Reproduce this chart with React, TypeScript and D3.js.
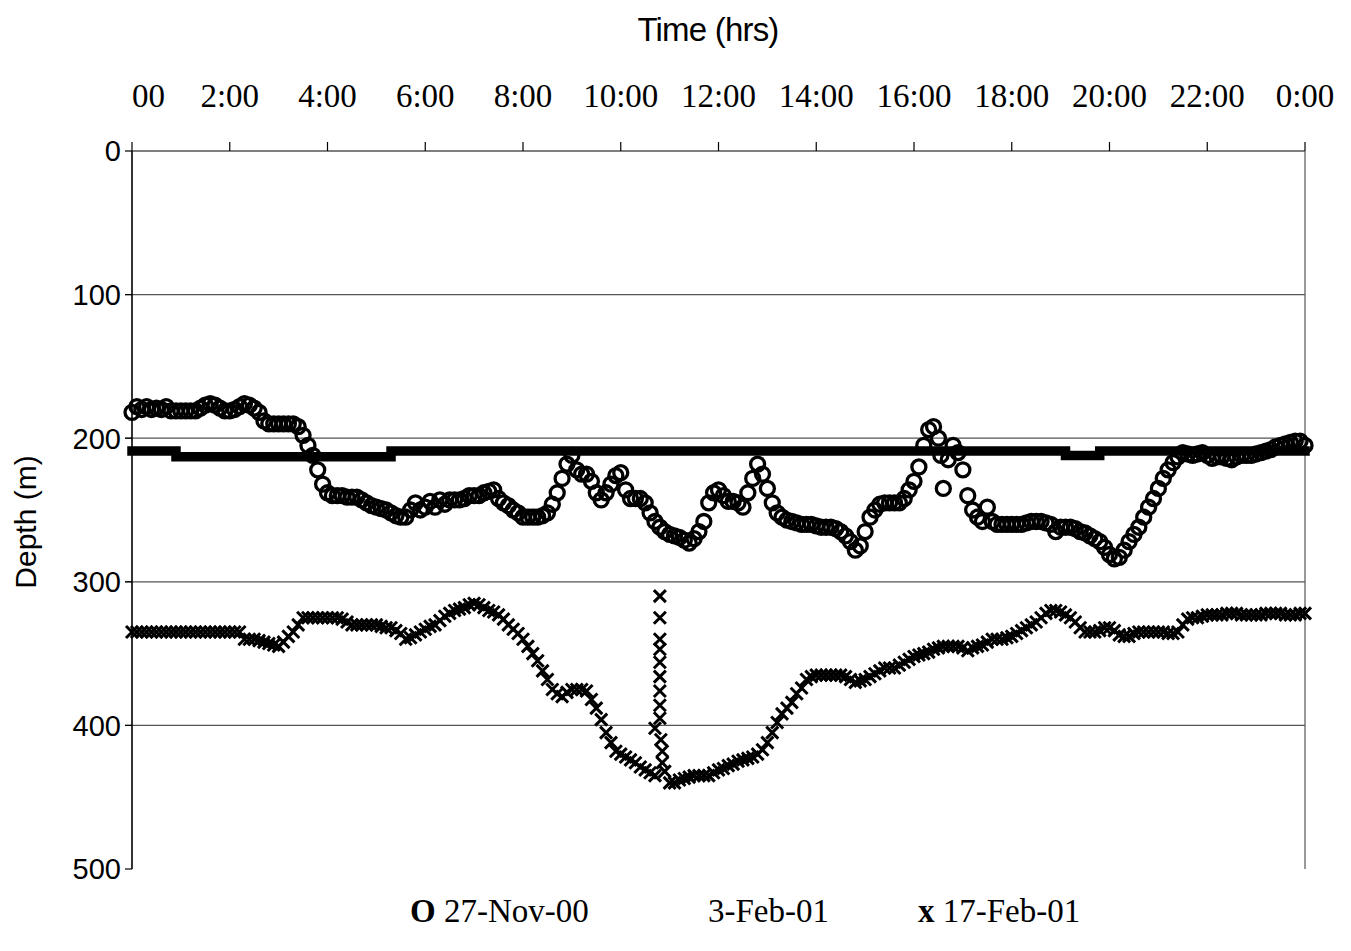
import React from "react";
import * as d3 from "d3";

// depth (m) vs time of day (hrs) for three days
const timeTicks = [0, 2, 4, 6, 8, 10, 12, 14, 16, 18, 20, 22, 24];
const timeLabels = ["00", "2:00", "4:00", "6:00", "8:00", "10:00", "12:00", "14:00", "16:00", "18:00", "20:00", "22:00", "0:00"];
const depthTicks = [0, 100, 200, 300, 400, 500];

// 27-Nov-00 (open circles), [hour, depth]
const nov27: [number, number][] = [
  [0.0, 182], [0.1, 178], [0.2, 180], [0.3, 178], [0.4, 180], [0.5, 179], [0.6, 180], [0.7, 178], [0.8, 181], [0.9, 181],
  [1.0, 181], [1.1, 181], [1.2, 181], [1.3, 181], [1.4, 179], [1.5, 177], [1.6, 176], [1.7, 177], [1.8, 179], [1.9, 181],
  [2.0, 181], [2.1, 180], [2.2, 178], [2.3, 176], [2.4, 177], [2.5, 179], [2.6, 182], [2.7, 188], [2.8, 190], [2.9, 190],
  [3.0, 190], [3.1, 190], [3.2, 190], [3.3, 190], [3.4, 192], [3.5, 198], [3.6, 205], [3.7, 212], [3.8, 222], [3.9, 232],
  [4.0, 238], [4.1, 240], [4.2, 240], [4.3, 240], [4.4, 241], [4.5, 241], [4.6, 241], [4.7, 243], [4.8, 245], [4.9, 247],
  [5.0, 248], [5.1, 249], [5.2, 250], [5.3, 252], [5.4, 254], [5.5, 255], [5.6, 255], [5.7, 250], [5.8, 245], [5.9, 250],
  [6.0, 248], [6.1, 244], [6.2, 248], [6.3, 243], [6.4, 246], [6.5, 243], [6.6, 243], [6.7, 243], [6.8, 242], [6.9, 240],
  [7.0, 240], [7.1, 240], [7.2, 238], [7.3, 237], [7.4, 236], [7.5, 242], [7.6, 245], [7.7, 247], [7.8, 250], [7.9, 252],
  [8.0, 255], [8.1, 255], [8.2, 255], [8.3, 255], [8.4, 254], [8.5, 252], [8.6, 246], [8.7, 238], [8.8, 228], [8.9, 218],
  [9.0, 212], [9.1, 222], [9.2, 225], [9.3, 225], [9.4, 230], [9.5, 238], [9.6, 243], [9.7, 238], [9.8, 232], [9.9, 226],
  [10.0, 224], [10.1, 236], [10.2, 242], [10.3, 242], [10.4, 242], [10.5, 245], [10.6, 252], [10.7, 258], [10.8, 262], [10.9, 265],
  [11.0, 267], [11.1, 268], [11.2, 269], [11.3, 271], [11.4, 273], [11.5, 270], [11.6, 265], [11.7, 258], [11.8, 245], [11.9, 238],
  [12.0, 236], [12.1, 240], [12.2, 244], [12.3, 244], [12.4, 245], [12.5, 248], [12.6, 238], [12.7, 228], [12.8, 218], [12.9, 225],
  [13.0, 235], [13.1, 245], [13.2, 252], [13.3, 255], [13.4, 257], [13.5, 258], [13.6, 259], [13.7, 260], [13.8, 260], [13.9, 260],
  [14.0, 261], [14.1, 262], [14.2, 262], [14.3, 262], [14.4, 263], [14.5, 265], [14.6, 268], [14.7, 272], [14.8, 278], [14.9, 275],
  [15.0, 265], [15.1, 255], [15.2, 250], [15.3, 246], [15.4, 245], [15.5, 245], [15.6, 245], [15.7, 245], [15.8, 242], [15.9, 236],
  [16.0, 230], [16.1, 220], [16.2, 205], [16.3, 194], [16.4, 192], [16.5, 200], [16.55, 212], [16.6, 235], [16.7, 215], [16.8, 205], [16.9, 210],
  [17.0, 222], [17.1, 240], [17.2, 250], [17.3, 255], [17.4, 258], [17.5, 248], [17.6, 258], [17.7, 260], [17.8, 260], [17.9, 260],
  [18.0, 260], [18.1, 260], [18.2, 260], [18.3, 259], [18.4, 258], [18.5, 258], [18.6, 258], [18.7, 259], [18.8, 260], [18.9, 265],
  [19.0, 262], [19.1, 262], [19.2, 262], [19.3, 263], [19.4, 265], [19.5, 266], [19.6, 268], [19.7, 270], [19.8, 272], [19.9, 276],
  [20.0, 281], [20.1, 284], [20.2, 283], [20.3, 278], [20.4, 272], [20.5, 267], [20.6, 262], [20.7, 255], [20.8, 248], [20.9, 242],
  [21.0, 235], [21.1, 228], [21.2, 222], [21.3, 217], [21.4, 213], [21.5, 210], [21.6, 211], [21.7, 212], [21.8, 211], [21.9, 210],
  [22.0, 212], [22.1, 214], [22.2, 213], [22.3, 213], [22.4, 214], [22.5, 215], [22.6, 213], [22.7, 212], [22.8, 212], [22.9, 212],
  [23.0, 211], [23.1, 210], [23.2, 209], [23.3, 208], [23.4, 206], [23.5, 205], [23.6, 204], [23.7, 203], [23.8, 202], [23.9, 202],
  [24.0, 205],
];

// 3-Feb-01 (thick dash line), step breakpoints
const feb3: [number, number][] = [
  [0, 209], [0.9, 213], [5.3, 209], [19.1, 212], [19.8, 209], [24, 209],
];

// 17-Feb-01 (crosses), [hour, depth]
const feb17: [number, number][] = [
  [0.0, 335], [0.1, 335], [0.2, 335], [0.3, 335], [0.4, 335], [0.5, 335], [0.6, 335], [0.7, 335], [0.8, 335], [0.9, 335],
  [1.0, 335], [1.1, 335], [1.2, 335], [1.3, 335], [1.4, 335], [1.5, 335], [1.6, 335], [1.7, 335], [1.8, 335], [1.9, 335],
  [2.0, 335], [2.1, 335], [2.2, 335], [2.3, 340], [2.4, 340], [2.5, 340], [2.6, 341], [2.7, 342], [2.8, 343], [2.9, 344],
  [3.0, 345], [3.1, 342], [3.2, 338], [3.3, 335], [3.4, 330], [3.5, 325], [3.6, 325], [3.7, 325], [3.8, 325], [3.9, 325],
  [4.0, 325], [4.1, 325], [4.2, 325], [4.3, 326], [4.4, 328], [4.5, 330], [4.6, 330], [4.7, 330], [4.8, 330], [4.9, 330],
  [5.0, 330], [5.1, 331], [5.2, 332], [5.3, 332], [5.4, 334], [5.5, 336], [5.6, 340], [5.7, 339], [5.8, 337], [5.9, 335],
  [6.0, 333], [6.1, 331], [6.2, 330], [6.3, 327], [6.4, 324], [6.5, 322], [6.6, 320], [6.7, 319], [6.8, 318], [6.9, 316],
  [7.0, 315], [7.1, 316], [7.2, 318], [7.3, 320], [7.4, 321], [7.5, 323], [7.6, 326], [7.7, 330], [7.8, 333], [7.9, 336],
  [8.0, 340], [8.1, 345], [8.2, 350], [8.3, 355], [8.4, 362], [8.5, 368], [8.6, 375], [8.7, 378], [8.8, 380], [8.9, 377],
  [9.0, 375], [9.1, 375], [9.2, 375], [9.3, 376], [9.4, 382], [9.5, 388], [9.6, 396], [9.7, 405], [9.8, 412], [9.9, 418],
  [10.0, 420], [10.1, 422], [10.2, 424], [10.3, 426], [10.4, 429], [10.5, 431], [10.6, 433], [10.7, 435],
  [10.8, 310], [10.8, 325], [10.8, 340], [10.8, 347], [10.8, 356], [10.8, 366], [10.8, 376], [10.8, 386], [10.8, 395],
  [10.7, 402], [10.82, 410], [10.85, 418], [10.85, 426], [10.9, 432],
  [11.0, 440], [11.1, 440], [11.2, 438], [11.3, 437], [11.4, 436], [11.5, 435], [11.6, 435], [11.7, 435], [11.8, 435], [11.9, 433],
  [12.0, 431], [12.1, 430], [12.2, 428], [12.3, 427], [12.4, 425], [12.5, 424], [12.6, 423], [12.7, 422], [12.8, 420], [12.9, 417],
  [13.0, 412], [13.1, 405], [13.2, 398], [13.3, 392], [13.4, 388], [13.5, 384], [13.6, 378], [13.7, 374], [13.8, 368], [13.9, 366],
  [14.0, 365], [14.1, 365], [14.2, 365], [14.3, 365], [14.4, 365], [14.5, 365], [14.6, 366], [14.7, 368], [14.8, 370], [14.9, 369],
  [15.0, 368], [15.1, 366], [15.2, 364], [15.3, 362], [15.4, 360], [15.5, 360], [15.6, 360], [15.7, 358], [15.8, 356], [15.9, 354],
  [16.0, 352], [16.1, 351], [16.2, 350], [16.3, 349], [16.4, 347], [16.5, 346], [16.6, 345], [16.7, 345], [16.8, 345], [16.9, 345],
  [17.0, 346], [17.1, 348], [17.2, 346], [17.3, 345], [17.4, 344], [17.5, 342], [17.6, 340], [17.7, 340], [17.8, 340], [17.9, 339],
  [18.0, 338], [18.1, 336], [18.2, 334], [18.3, 332], [18.4, 330], [18.5, 328], [18.6, 325], [18.7, 322], [18.8, 320], [18.9, 320],
  [19.0, 321], [19.1, 323], [19.2, 325], [19.3, 328], [19.4, 332], [19.5, 335], [19.6, 335], [19.7, 335], [19.8, 334], [19.9, 332],
  [20.0, 332], [20.1, 334], [20.2, 337], [20.3, 338], [20.4, 338], [20.5, 336], [20.6, 335], [20.7, 335], [20.8, 335], [20.9, 335],
  [21.0, 335], [21.1, 335], [21.2, 336], [21.3, 336], [21.4, 335], [21.5, 330], [21.6, 326], [21.7, 325], [21.8, 325], [21.9, 324],
  [22.0, 323], [22.1, 323], [22.2, 323], [22.3, 323], [22.4, 322], [22.5, 322], [22.6, 322], [22.7, 323], [22.8, 323], [22.9, 323],
  [23.0, 323], [23.1, 323], [23.2, 322], [23.3, 322], [23.4, 322], [23.5, 322], [23.6, 323], [23.7, 323], [23.8, 323], [23.9, 322],
  [24.0, 322],
];

const legendItems = [
  { mark: "O", name: "27-Nov-00", x: 410 },
  { mark: "", name: "3-Feb-01", x: 708 },
  { mark: "x", name: "17-Feb-01", x: 918 },
];

const W = 1351;
const H = 951;
const margin = { top: 151, right: 46, bottom: 82, left: 132 };

export default function App() {
  const x = d3.scaleLinear().domain([0, 24]).range([margin.left, W - margin.right]);
  const y = d3.scaleLinear().domain([0, 500]).range([margin.top, H - margin.bottom]);
  const stepLine = d3
    .line<[number, number]>()
    .x((d) => x(d[0]))
    .y((d) => y(d[1]))
    .curve(d3.curveStepAfter);

  const serif = "'Liberation Serif', 'Times New Roman', serif";
  const sans = "'Liberation Sans', Arial, sans-serif";

  return (
    <svg
      width={W}
      height={H}
      style={{ position: "absolute", left: 0, top: 0, background: "white" }}
    >
      {/* grid */}
      {depthTicks.slice(1, -1).map((d) => (
        <line key={"g" + d} x1={x(0) - 7} x2={x(24)} y1={y(d)} y2={y(d)} stroke="#555" strokeWidth={1.2} />
      ))}
      {/* axes */}
      <line x1={x(0)} x2={x(24)} y1={y(0)} y2={y(0)} stroke="#000" strokeWidth={1.2} />
      <line x1={x(0)} x2={x(0)} y1={y(0)} y2={y(500)} stroke="#000" strokeWidth={1.6} />
      <line x1={x(24)} x2={x(24)} y1={y(0)} y2={y(500)} stroke="#555" strokeWidth={1.2} />
      {timeTicks.map((t, i) => (
        <g key={"t" + t}>
          <line x1={x(t)} x2={x(t)} y1={y(0) - 9} y2={y(0)} stroke="#000" strokeWidth={1.2} />
          <text
            x={x(t)}
            y={107}
            textAnchor={i === 0 ? "start" : "middle"}
            fontFamily={serif}
            fontSize={33}
          >
            {timeLabels[i]}
          </text>
        </g>
      ))}
      {depthTicks.map((d) => (
        <g key={"d" + d}>
          <line x1={x(0) - 7} x2={x(0)} y1={y(d)} y2={y(d)} stroke="#000" strokeWidth={1.2} />
          <text x={121} y={y(d)} dy="0.36em" textAnchor="end" fontFamily={sans} fontSize={29}>
            {d}
          </text>
        </g>
      ))}
      <text x={708} y={41} textAnchor="middle" fontFamily={sans} fontSize={33} letterSpacing={-0.8}>
        Time (hrs)
      </text>
      <text
        transform={`translate(36, 522) rotate(-90)`}
        textAnchor="middle"
        fontFamily={sans}
        fontSize={30}
      >
        Depth (m)
      </text>

      {/* 3-Feb-01 */}
      <path d={stepLine(feb3) || ""} fill="none" stroke="#000" strokeWidth={9.5} strokeLinecap="square" />

      {/* 27-Nov-00 */}
      <g fill="none" stroke="#000" strokeWidth={3.3}>
        {nov27.map((d, i) => (
          <circle key={i} cx={x(d[0])} cy={y(d[1])} r={7} />
        ))}
      </g>

      {/* 17-Feb-01 */}
      <g stroke="#000" strokeWidth={3}>
        {feb17.map((d, i) => {
          const cx = x(d[0]);
          const cy = y(d[1]);
          const s = 6;
          return (
            <path key={i} d={`M${cx - s},${cy - s}L${cx + s},${cy + s}M${cx - s},${cy + s}L${cx + s},${cy - s}`} />
          );
        })}
      </g>

      {/* legend */}
      {legendItems.map((it) => (
        <text key={it.name} x={it.x} y={922} fontFamily={serif} fontSize={33}>
          {it.mark && <tspan fontWeight="bold">{it.mark} </tspan>}
          {it.name}
        </text>
      ))}
    </svg>
  );
}
